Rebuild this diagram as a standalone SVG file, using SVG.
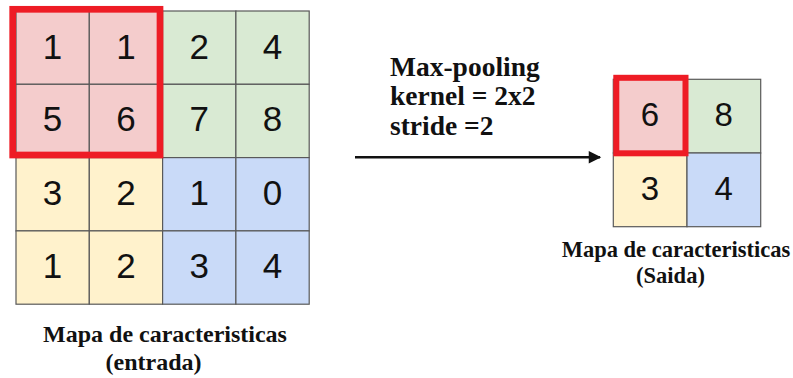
<svg xmlns="http://www.w3.org/2000/svg" width="793" height="378" viewBox="0 0 793 378">
  <style>
    .cell { stroke: #595959; stroke-width: 1.2; }
    .pink { fill: #f4cccc; }
    .green { fill: #d9ead3; }
    .yellow { fill: #fff2cc; }
    .blue { fill: #c9daf8; }
    .num { font-family: "Liberation Sans", Arial, sans-serif; fill: #111; text-anchor: middle; }
    .big { font-size: 35px; }
    .small { font-size: 33px; }
    .sel { fill: none; stroke: #ee1c25; }
    .lbl { font-family: "Liberation Serif", "Times New Roman", serif; font-weight: bold; fill: #111; }
  </style>
  <defs>
    <marker id="head" viewBox="0 0 10 10" refX="9" refY="5" markerWidth="7.5" markerHeight="5" markerUnits="strokeWidth" orient="auto">
      <path d="M0,0 L10,5 L0,10 Z" fill="#111"/>
    </marker>
  </defs>
  <rect width="793" height="378" fill="#ffffff"/>

  <!-- input feature map 4x4 -->
  <g id="input-map">
    <rect class="cell pink" x="16" y="11" width="73.3" height="73.3"/>
    <rect class="cell pink" x="89.3" y="11" width="73.3" height="73.3"/>
    <rect class="cell green" x="162.6" y="11" width="73.3" height="73.3"/>
    <rect class="cell green" x="235.9" y="11" width="73.3" height="73.3"/>
    <rect class="cell pink" x="16" y="84.3" width="73.3" height="73.3"/>
    <rect class="cell pink" x="89.3" y="84.3" width="73.3" height="73.3"/>
    <rect class="cell green" x="162.6" y="84.3" width="73.3" height="73.3"/>
    <rect class="cell green" x="235.9" y="84.3" width="73.3" height="73.3"/>
    <rect class="cell yellow" x="16" y="157.6" width="73.3" height="73.3"/>
    <rect class="cell yellow" x="89.3" y="157.6" width="73.3" height="73.3"/>
    <rect class="cell blue" x="162.6" y="157.6" width="73.3" height="73.3"/>
    <rect class="cell blue" x="235.9" y="157.6" width="73.3" height="73.3"/>
    <rect class="cell yellow" x="16" y="230.9" width="73.3" height="73.3"/>
    <rect class="cell yellow" x="89.3" y="230.9" width="73.3" height="73.3"/>
    <rect class="cell blue" x="162.6" y="230.9" width="73.3" height="73.3"/>
    <rect class="cell blue" x="235.9" y="230.9" width="73.3" height="73.3"/>
    <g class="num big">
      <text x="52.6" y="59">1</text>
      <text x="125.9" y="59">1</text>
      <text x="199.2" y="59">2</text>
      <text x="272.5" y="59">4</text>
      <text x="52.6" y="131">5</text>
      <text x="125.9" y="131">6</text>
      <text x="199.2" y="131">7</text>
      <text x="272.5" y="131">8</text>
      <text x="52.6" y="205">3</text>
      <text x="125.9" y="205">2</text>
      <text x="199.2" y="205">1</text>
      <text x="272.5" y="205">0</text>
      <text x="52.6" y="278">1</text>
      <text x="125.9" y="278">2</text>
      <text x="199.2" y="278">3</text>
      <text x="272.5" y="278">4</text>
    </g>
    <rect class="sel" x="12.7" y="9.3" width="147.3" height="145.7" stroke-width="6.7"/>
  </g>

  <g id="input-label" class="lbl" font-size="24">
    <text x="165" y="342" text-anchor="middle">Mapa de caracteristicas</text>
    <text x="153.5" y="370" text-anchor="middle">(entrada)</text>
  </g>

  <!-- operation label -->
  <g id="operation" class="lbl" font-size="27.5">
    <text x="390" y="76">Max-pooling</text>
    <text x="390" y="105">kernel = 2x2</text>
    <text x="390" y="135">stride =2</text>
  </g>

  <g id="connectors">
    <line x1="355" y1="157.3" x2="600" y2="157.3" stroke="#111" stroke-width="2.5" marker-end="url(#head)"/>
  </g>

  <!-- output feature map 2x2 -->
  <g id="output-map">
    <rect class="cell pink" x="613.3" y="79.3" width="73.7" height="73.7"/>
    <rect class="cell green" x="687" y="79.3" width="73.7" height="73.7"/>
    <rect class="cell yellow" x="613.3" y="153" width="73.7" height="73.7"/>
    <rect class="cell blue" x="687" y="153" width="73.7" height="73.7"/>
    <g class="num small">
      <text x="650" y="126">6</text>
      <text x="723.8" y="126">8</text>
      <text x="650" y="200">3</text>
      <text x="723.8" y="200">4</text>
    </g>
    <rect class="sel" x="616.3" y="77.8" width="69.2" height="75.5" stroke-width="6"/>
  </g>

  <g id="output-label" class="lbl" font-size="22.5">
    <text x="676" y="257" text-anchor="middle">Mapa de caracteristicas</text>
    <text x="670.5" y="283" text-anchor="middle">(Saida)</text>
  </g>
</svg>
